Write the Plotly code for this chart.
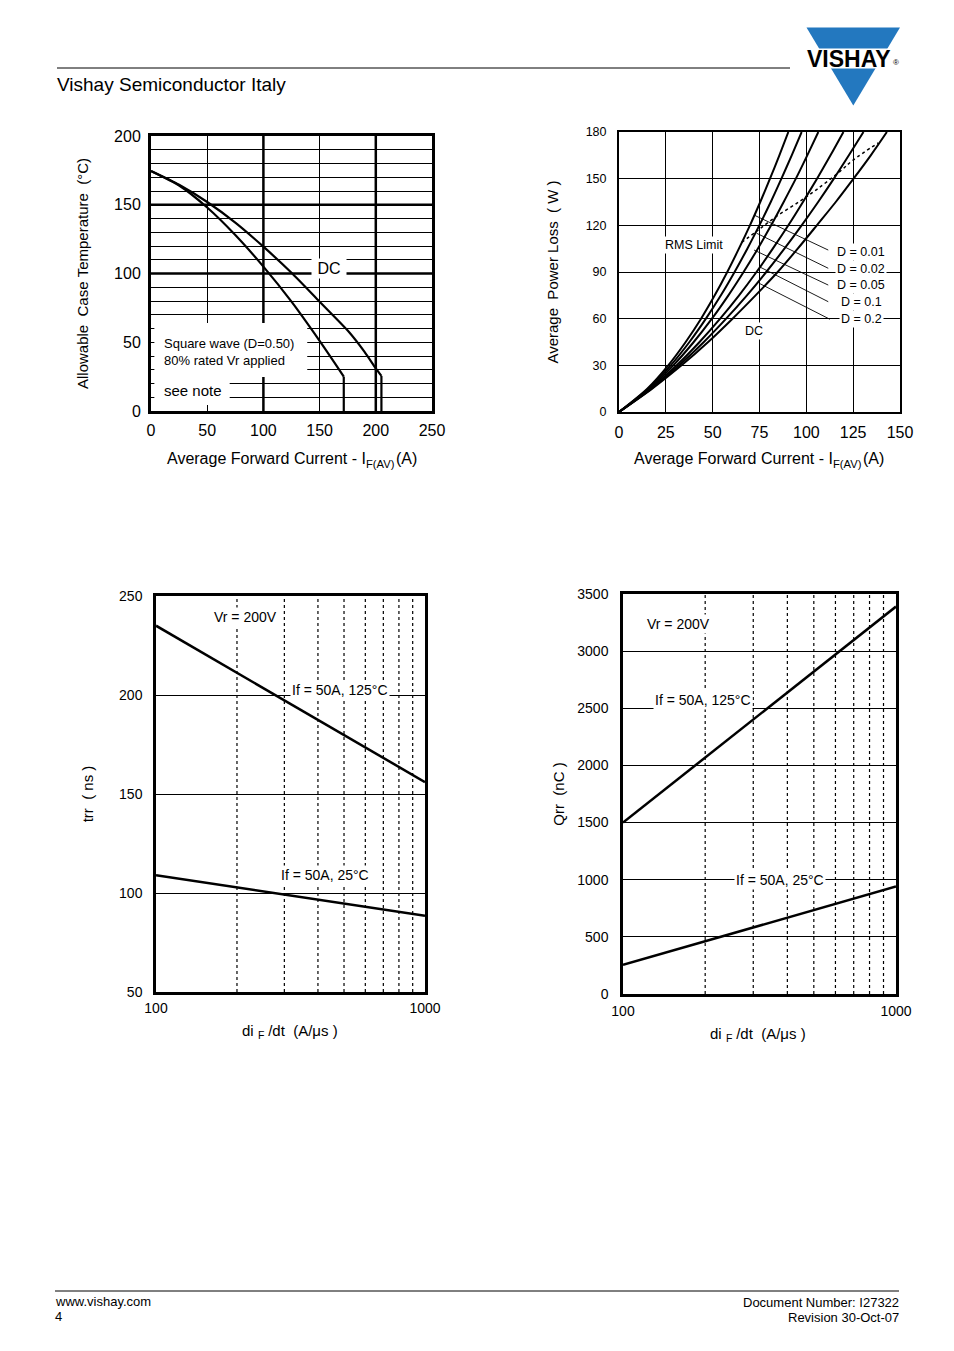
import plotly.graph_objects as go

W, H = 954, 1351
OFF = 8  # the page body adds an 8px margin; compensate so positions match the reference
FONT = "Liberation Sans, Arial, Helvetica, sans-serif"
NB = "\u00a0"


def fx(x):
    return (x - OFF) / W


def fy(y):
    return 1 - (y - OFF) / H


# ---------------- data ----------------
# Chart 1: allowable case temperature vs average forward current
c1_dc_current = [0, 25, 50, 75, 100, 125, 150, 175, 190, 200, 205]
c1_dc_temp = [174.5, 164.5, 152, 137, 119.5, 100.5, 79.5, 58.5, 43, 31, 25.5]
c1_dc_cutoff = 205
c1_sq_current = [0, 25, 50, 75, 100, 125, 150, 165, 171.5]
c1_sq_temp = [174.5, 164, 148, 128, 105, 79.5, 51, 33, 25]
c1_sq_cutoff = 171.5
c1_x_ticks = [0, 50, 100, 150, 200, 250]
c1_y_ticks = [0, 50, 100, 150, 200]
c1_thick_x = [100, 200]
c1_thick_y = [100, 150]

# Chart 2: average power loss vs average forward current
c2_power = [0, 15, 30, 45, 60, 75, 90, 105, 120, 135, 150, 165, 180]
c2_i_d001 = [0, 15.1, 26.3, 35.6, 43.8, 51.1, 57.8, 64.0, 69.9, 75.4, 80.6, 85.6, 90.4]
c2_i_d002 = [0, 15.6, 27.6, 37.6, 46.4, 54.4, 61.7, 68.5, 74.9, 81.0, 86.7, 92.2, 97.5]
c2_i_d005 = [0, 16.2, 29.0, 39.9, 49.6, 58.4, 66.5, 74.1, 81.2, 87.9, 94.4, 100.5, 106.4]
c2_i_d01 = [0, 16.9, 30.8, 43.0, 54.0, 64.1, 73.4, 82.1, 90.4, 98.2, 105.7, 112.9, 119.8]
c2_i_d02 = [0, 17.3, 32.1, 45.3, 57.2, 68.3, 78.6, 88.3, 97.5, 106.3, 114.7, 122.7, 130.5]
c2_i_dc = [0, 17.7, 33.4, 47.6, 60.6, 72.9, 84.7, 95.4, 105.6, 115.7, 125.2, 134.4, 143.0]
c2_rms_current = [65.5, 73.5, 84.2, 96.6, 105.5, 118, 125, 138.4]
c2_rms_power = [109, 116.2, 125.9, 135.5, 143, 154.7, 162, 173]
c2_labels = ["D = 0.01", "D = 0.02", "D = 0.05", "D = 0.1", "D = 0.2"]
c2_ptr_i0 = [72.1, 73.5, 72.1, 74.9, 74.9]
c2_ptr_p0 = [126.6, 114.9, 104.1, 93.4, 82.7]
c2_ptr_i1 = [111.7, 111.7, 111.7, 111.7, 112.6]
c2_ptr_p1 = [104.1, 92.4, 81.6, 70.9, 59.6]
c2_x_ticks = [0, 25, 50, 75, 100, 125, 150]
c2_y_ticks = [0, 30, 60, 90, 120, 150, 180]

# Chart 3: trr vs diF/dt
c3_didt = [100, 1000]
c3_trr_125 = [235, 156]
c3_trr_25 = [109, 88.5]
c3_y_ticks = [50, 100, 150, 200, 250]

# Chart 4: Qrr vs diF/dt
c4_didt = [100, 1000]
c4_qrr_125 = [1500, 3390]
c4_qrr_25 = [255, 940]
c4_y_ticks = [0, 500, 1000, 1500, 2000, 2500, 3000, 3500]

log_ticks = [100, 1000]
log_minor = [200, 300, 400, 500, 600, 700, 800, 900]

# ---------------- figure ----------------
fig = go.Figure()
BLK = "black"

# Chart 1 curves
fig.add_trace(go.Scatter(x=c1_dc_current, y=c1_dc_temp, mode="lines",
                         line=dict(color=BLK, width=2.2, shape="spline", smoothing=0.6),
                         xaxis="x", yaxis="y", showlegend=False))
fig.add_trace(go.Scatter(x=[c1_dc_cutoff, c1_dc_cutoff], y=[c1_dc_temp[-1], 0], mode="lines",
                         line=dict(color=BLK, width=2.2), xaxis="x", yaxis="y", showlegend=False))
fig.add_trace(go.Scatter(x=c1_sq_current, y=c1_sq_temp, mode="lines",
                         line=dict(color=BLK, width=2.2, shape="spline", smoothing=0.6),
                         xaxis="x", yaxis="y", showlegend=False))
fig.add_trace(go.Scatter(x=[c1_sq_cutoff, c1_sq_cutoff], y=[c1_sq_temp[-1], 0], mode="lines",
                         line=dict(color=BLK, width=2.2), xaxis="x", yaxis="y", showlegend=False))

# Chart 2 curves
for xs in [c2_i_d001, c2_i_d002, c2_i_d005, c2_i_d01, c2_i_d02, c2_i_dc]:
    fig.add_trace(go.Scatter(x=xs, y=c2_power, mode="lines",
                             line=dict(color=BLK, width=2, shape="spline", smoothing=0.8),
                             xaxis="x2", yaxis="y2", showlegend=False))
fig.add_trace(go.Scatter(x=c2_rms_current, y=c2_rms_power, mode="lines",
                         line=dict(color=BLK, width=1.5, dash="dot", shape="spline"),
                         xaxis="x2", yaxis="y2", showlegend=False))


# dotted log minor lines
def minor_lines(ymin, ymax):
    xs, ys = [], []
    for v in log_minor:
        xs += [v, v, None]
        ys += [ymin, ymax, None]
    return xs, ys


mx, my = minor_lines(c3_y_ticks[0], c3_y_ticks[-1])
fig.add_trace(go.Scatter(x=mx, y=my, mode="lines", line=dict(color=BLK, width=1.2, dash="dot"),
                         xaxis="x3", yaxis="y3", showlegend=False))
mx, my = minor_lines(c4_y_ticks[0], c4_y_ticks[-1])
fig.add_trace(go.Scatter(x=mx, y=my, mode="lines", line=dict(color=BLK, width=1.2, dash="dot"),
                         xaxis="x4", yaxis="y4", showlegend=False))

fig.add_trace(go.Scatter(x=c3_didt, y=c3_trr_125, mode="lines", line=dict(color=BLK, width=2.5),
                         xaxis="x3", yaxis="y3", showlegend=False))
fig.add_trace(go.Scatter(x=c3_didt, y=c3_trr_25, mode="lines", line=dict(color=BLK, width=2.5),
                         xaxis="x3", yaxis="y3", showlegend=False))
fig.add_trace(go.Scatter(x=c4_didt, y=c4_qrr_125, mode="lines", line=dict(color=BLK, width=2.5),
                         xaxis="x4", yaxis="y4", showlegend=False))
fig.add_trace(go.Scatter(x=c4_didt, y=c4_qrr_25, mode="lines", line=dict(color=BLK, width=2.5),
                         xaxis="x4", yaxis="y4", showlegend=False))


# ---------------- axes ----------------
def tf(size):
    return dict(family=FONT, size=size, color=BLK)


def axis(domain, title, title_size, standoff, **kw):
    d = dict(domain=domain, showline=True, mirror=True, linecolor=BLK, ticks="",
             zeroline=False, gridcolor=BLK, fixedrange=True, automargin=False)
    if title:
        d["title"] = dict(text=title, font=tf(title_size), standoff=standoff)
    d.update(kw)
    return d


layout_axes = dict(
    xaxis=axis([fx(151), fx(432)], None, 16, 0, anchor="y", range=[0, 250], tickvals=c1_x_ticks,
               showgrid=True, gridwidth=1, linewidth=3, tickfont=tf(16), ticklabelstandoff=3),
    yaxis=axis([fy(411), fy(136)], f"Allowable{NB}{NB}Case{NB}Temperature{NB}{NB}(°C)", 15, 22,
               anchor="x", range=[0, 200], tickvals=c1_y_ticks,
               showgrid=False, linewidth=3, minor=dict(dtick=10, showgrid=True, gridcolor=BLK, gridwidth=1),
               tickfont=tf(16), ticklabelstandoff=4),
    xaxis2=axis([fx(619), fx(900)], None, 16, 0, anchor="y2", range=[0, 150], tickvals=c2_x_ticks,
                showgrid=True, gridwidth=1, linewidth=2, tickfont=tf(16), ticklabelstandoff=5),
    yaxis2=axis([fy(412), fy(132)], f"Average{NB}{NB}Power{NB}Loss{NB}{NB}({NB}W{NB})", 15, 23,
                anchor="x2", range=[0, 180], tickvals=c2_y_ticks,
                showgrid=True, gridwidth=1, linewidth=2, tickfont=tf(12.5), ticklabelstandoff=8),
    xaxis3=axis([fx(156), fx(425)], None, 15, 0, anchor="y3", type="log", range=[2, 3], tickvals=log_ticks,
                ticktext=[str(v) for v in log_ticks], showgrid=False, linewidth=2.5,
                tickfont=tf(14), ticklabelstandoff=1),
    yaxis3=axis([fy(992), fy(596)], f"trr{NB}{NB}({NB}ns{NB})", 15, 22, anchor="x3", range=[50, 250],
                tickvals=c3_y_ticks, showgrid=True, gridwidth=1, linewidth=2.5, tickfont=tf(14),
                ticklabelstandoff=8),
    xaxis4=axis([fx(623), fx(896)], None, 15, 0, anchor="y4", type="log", range=[2, 3], tickvals=log_ticks,
                ticktext=[str(v) for v in log_ticks], showgrid=False, linewidth=2.5,
                tickfont=tf(14), ticklabelstandoff=2),
    yaxis4=axis([fy(994), fy(594)], f"Qrr{NB}{NB}(nC{NB})", 15, 10, anchor="x4", range=[0, 3500],
                tickvals=c4_y_ticks, showgrid=True, gridwidth=1, linewidth=2.5, tickfont=tf(14),
                ticklabelstandoff=9),
)

# ---------------- shapes ----------------
shapes = []
for v in c1_thick_x:
    shapes.append(dict(type="line", xref="x", yref="y", x0=v, x1=v, y0=0, y1=200,
                       line=dict(color=BLK, width=2.5), layer="below"))
for h in c1_thick_y:
    shapes.append(dict(type="line", xref="x", yref="y", x0=0, x1=250, y0=h, y1=h,
                       line=dict(color=BLK, width=2.5), layer="below"))
# white boxes behind the notes of chart 1 (data units)
shapes.append(dict(type="rect", xref="x", yref="y", x0=3, x1=139, y0=24.7, y1=64,
                   fillcolor="white", line=dict(width=0), layer="between"))
shapes.append(dict(type="rect", xref="x", yref="y", x0=3, x1=70, y0=4.4, y1=24.7,
                   fillcolor="white", line=dict(width=0), layer="between"))
# pointer lines chart 2
for i in range(len(c2_labels)):
    shapes.append(dict(type="line", xref="x2", yref="y2", x0=c2_ptr_i0[i], y0=c2_ptr_p0[i],
                       x1=c2_ptr_i1[i], y1=c2_ptr_p1[i], line=dict(color=BLK, width=0.9)))
# header / footer rules
shapes.append(dict(type="line", xref="paper", yref="paper", x0=fx(57), x1=fx(790), y0=fy(68), y1=fy(68),
                   line=dict(color=BLK, width=1)))
shapes.append(dict(type="line", xref="paper", yref="paper", x0=fx(55), x1=fx(899), y0=fy(1291), y1=fy(1291),
                   line=dict(color=BLK, width=1)))
# logo
BLUE = "#2378bf"
shapes.append(dict(type="path", xref="paper", yref="paper",
                   path=f"M {fx(806.5)},{fy(27.5)} L {fx(900)},{fy(27.5)} L {fx(853.3)},{fy(105.5)} Z",
                   fillcolor=BLUE, line=dict(width=0)))
shapes.append(dict(type="rect", xref="paper", yref="paper", x0=fx(800), x1=fx(906), y0=fy(68.5), y1=fy(48.5),
                   fillcolor="white", line=dict(width=0)))

# ---------------- annotations ----------------
anns = []


def ann(text, x, y, size, xanchor="center", yanchor="middle", bg=None, bold=False, pad=1):
    d = dict(text=text, x=fx(x), y=fy(y), xref="paper", yref="paper", showarrow=False,
             xanchor=xanchor, yanchor=yanchor,
             font=dict(family=FONT, size=size, color=BLK, weight="bold" if bold else "normal"),
             borderpad=pad, borderwidth=0 if pad == 0 else 1)
    if bg:
        d["bgcolor"] = bg
    anns.append(d)


# Arial / Liberation Sans advance widths (em) to chain subscript pieces
CW = {"A": .667, "v": .5, "e": .556, "r": .333, "a": .556, "g": .556, " ": .278, NB: .278,
      "F": .611, "o": .556, "w": .722, "d": .556, "C": .722, "u": .556, "n": .556, "t": .278,
      "-": .333, "I": .278, "(": .333, ")": .333, "V": .667, "i": .222, "/": .278, "μ": .576,
      "s": .5}


def text_w(s, size):
    return sum(CW.get(c, .556) for c in s) * size


def sub_title(main, sub, tail, cx, cy, size):
    ss = size * 0.7
    wm, ws, wt = text_w(main, size), text_w(sub, ss), text_w(tail, size)
    x0 = cx - (wm + ws + wt) / 2
    ann(main, x0, cy, size, xanchor="left", pad=0)
    ann(sub, x0 + wm, cy + 0.35 * size, ss, xanchor="left", pad=0)
    ann(tail, x0 + wm + ws, cy, size, xanchor="left", pad=0)


# header/footer
ann("Vishay Semiconductor Italy", 55, 85, 19, xanchor="left")
ann("VISHAY", 849, 59, 23, bold=True)
ann("®", 896, 63, 8)
ann("www.vishay.com", 53, 1301, 13, xanchor="left")
ann("4", 53, 1316, 13, xanchor="left")
ann("Document Number: I27322", 901, 1302, 13, xanchor="right")
ann("Revision 30-Oct-07", 901, 1317, 13, xanchor="right")

# x-axis titles (with subscripts)
sub_title("Average Forward Current - I", "F(AV)", "(A)", 292, 458, 16)
sub_title("Average Forward Current - I", "F(AV)", "(A)", 759, 458, 16)
sub_title(f"di{NB}", "F", f"{NB}/dt{NB}{NB}(A/μs{NB})", 290, 1030, 15)
sub_title(f"di{NB}", "F", f"{NB}/dt{NB}{NB}(A/μs{NB})", 758, 1033, 15)

# chart 1
ann(f"{NB}DC{NB}", 329, 268, 16, bg="white")
ann("Square wave (D=0.50)", 162, 343, 13, xanchor="left")
ann("80% rated Vr applied", 162, 361, 13, xanchor="left")
ann("see note", 162, 390, 15, xanchor="left")

# chart 2
ann("RMS Limit", 694, 245, 12.5, bg="white")
ann("DC", 754, 331, 12.5, bg="white")
label_y = [252, 269, 285, 302, 319]
label_x = [860.5, 860.5, 860.5, 861, 861]
for t, lx, ly in zip(c2_labels, label_x, label_y):
    ann(t, lx, ly, 12.5, bg="white")

# chart 3
ann("Vr = 200V", 245, 617, 14, bg="white")
ann("If = 50A, 125°C", 340, 690, 14, bg="white")
ann("If = 50A, 25°C", 325, 875, 14, bg="white")

# chart 4
ann("Vr = 200V", 678, 624, 14, bg="white")
ann("If = 50A, 125°C", 703, 700, 14, bg="white")
ann("If = 50A, 25°C", 780, 880, 14, bg="white")

fig.update_layout(
    width=W, height=H, margin=dict(l=0, r=0, t=0, b=0, pad=0, autoexpand=False), autosize=False,
    paper_bgcolor="white", plot_bgcolor="white",
    font=dict(family=FONT, color=BLK),
    shapes=shapes, annotations=anns, showlegend=False,
    **layout_axes,
)

fig.write_html("out.html", config=dict(displayModeBar=False))
